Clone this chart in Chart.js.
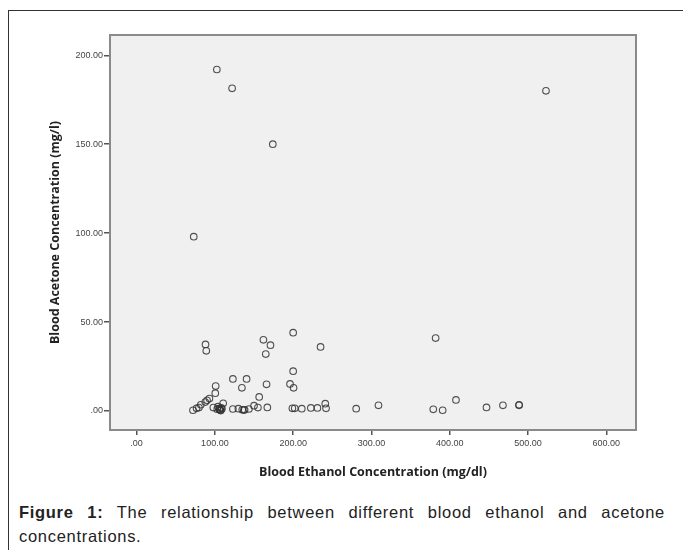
<!DOCTYPE html>
<html>
<head>
<meta charset="utf-8">
<script src="https://cdn.jsdelivr.net/npm/chart.js@4.4.1/dist/chart.umd.min.js"></script>
<style>
  html, body { margin: 0; padding: 0; background: #fff; }
  body { width: 683px; height: 550px; position: relative; overflow: hidden; }
  #frame {
    position: absolute; left: 8px; top: 10px; right: -2px; bottom: -2px;
    border-left: 1.5px solid #333; border-top: 1.5px solid #333;
  }
  #wrap { position: absolute; left: 0; top: 0; width: 683px; height: 490px; }
  #caption {
    position: absolute; left: 19px; top: 500px; width: 646px;
    font-family: "Liberation Sans", Arial, sans-serif; font-size: 16.5px;
    letter-spacing: 0.7px; line-height: 24px; color: #222;
  }
  #caption .l1 { display: block; text-align: justify; text-align-last: justify; }
  #caption .l2 { display: block; }
</style>
</head>
<body>
<div id="frame"></div>
<div id="wrap"><canvas id="scatter" width="683" height="490"></canvas></div>
<div id="caption"><span class="l1"><b>Figure 1:</b> The relationship between different blood ethanol and acetone</span><span class="l2">concentrations.</span></div>

<script>
/* ---------- data ---------- */

const ethanol = [
  102.5, 122, 523, 174, 73,
  88, 89, 162, 171, 165, 200, 235, 382,
  200, 123, 140.5, 134.5, 101, 100.5, 166, 196, 200.5,
  156.6, 90, 87.7, 93, 82,
  72, 76.6, 79.6, 98, 103, 104, 105.5, 106, 107, 107.5, 108, 109, 110.6,
  123, 130, 135, 137, 138, 143.4, 150, 155, 167,
  199, 202, 211, 222.6, 231, 241, 242, 280.5, 309,
  379, 391, 408, 447, 468, 488.6, 488.6
];

const acetone = [
  192, 181.4, 180, 150, 98,
  37.4, 33.8, 40, 37, 32, 44, 36, 41,
  22.4, 18, 18, 13, 14, 10, 15, 15.2, 13,
  7.9, 6, 5, 7, 3.5,
  0.4, 1.5, 1.9, 1.9, 1, 2.4, 1.3, 0.8, 0.5, 0.2, 1.8, 1.3, 4.3,
  1.1, 1.3, 0.7, 0.5, 0.7, 1.1, 3, 1.9, 2,
  1.5, 1.5, 1.3, 1.7, 1.7, 4.1, 1.5, 1.3, 3.2,
  0.9, 0.4, 6.2, 2, 3.2, 3.2, 3.5
];

const xTicks = [0, 100, 200, 300, 400, 500, 600];
const yTicks = [0, 50, 100, 150, 200];

const xTitle = "Blood Ethanol Concentration (mg/dl)";
const yTitle = "Blood Acetone Concentration (mg/l)";

/* ---------- helpers ---------- */

function tickLabel(v) {
  return v === 0 ? ".00" : v.toFixed(2);
}

const points = ethanol.map((x, i) => ({ x: x, y: acetone[i] }));

// grey plot panel with a frame, as in SPSS output
const plotPanel = {
  id: "plotPanel",
  beforeDatasetsDraw(chart) {
    const { ctx, chartArea: a } = chart;
    ctx.save();
    ctx.fillStyle = "#f0f0f0";
    ctx.fillRect(a.left, a.top, a.right - a.left, a.bottom - a.top);
    ctx.strokeStyle = "#8a8a8a";
    ctx.lineWidth = 2;
    ctx.strokeRect(a.left, a.top, a.right - a.left, a.bottom - a.top);
    ctx.restore();
  }
};

const tickFont = { family: "'Liberation Sans', Arial, sans-serif", size: 9 };
const titleFont = { family: "'Open Sans', sans-serif", size: 12.5, weight: "bold" };

/* ---------- chart ---------- */

new Chart(document.getElementById("scatter"), {
  type: "scatter",
  data: {
    datasets: [{
      data: points,
      pointRadius: 3.3,
      pointHoverRadius: 3.3,
      pointBorderWidth: 1.1,
      pointBorderColor: "rgba(50,50,50,0.85)",
      pointBackgroundColor: "rgba(0,0,0,0)"
    }]
  },
  options: {
    responsive: false,
    animation: false,
    layout: { padding: { left: 48, top: 35, right: 47, bottom: 10 } },
    plugins: {
      legend: { display: false },
      tooltip: { enabled: false }
    },
    scales: {
      x: {
        type: "linear",
        min: -34,
        max: 638,
        afterBuildTicks: s => { s.ticks = xTicks.map(v => ({ value: v })); },
        afterFit: s => { s.height = 50; },
        grid: { drawOnChartArea: false, drawTicks: true, tickLength: 5, color: "#555", lineWidth: 1.5 },
        border: { display: false },
        ticks: { font: tickFont, color: "#444", padding: 3, maxRotation: 0, callback: tickLabel },
        title: { display: true, text: xTitle, font: titleFont, color: "#222", padding: 0 }
      },
      y: {
        type: "linear",
        min: -10.7,
        max: 211.4,
        afterBuildTicks: s => { s.ticks = yTicks.map(v => ({ value: v })); },
        afterFit: s => { s.width = 62; },
        grid: { drawOnChartArea: false, drawTicks: true, tickLength: 6, color: "#555", lineWidth: 1.5 },
        border: { display: false },
        ticks: { font: tickFont, color: "#444", padding: 1, callback: tickLabel },
        title: { display: true, text: yTitle, font: titleFont, color: "#222", padding: 0 }
      }
    }
  },
  plugins: [plotPanel]
});
</script>
</body>
</html>
